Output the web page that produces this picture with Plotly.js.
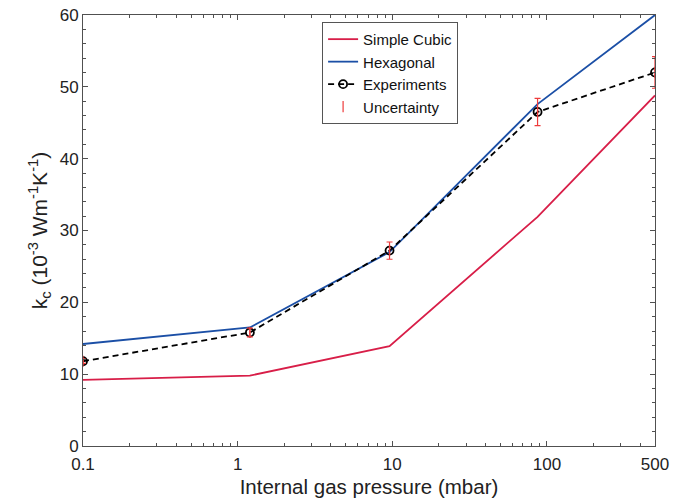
<!DOCTYPE html>
<html>
<head>
<meta charset="utf-8">
<script src="https://cdn.plot.ly/plotly-3.0.1.min.js"></script>
<style>html,body{margin:0;padding:0;background:#fff;}#chart{width:686px;height:501px;}</style>
</head>
<body>
<div id="chart"></div>
<script>
// Data
const pressure = [0.1, 1.2, 9.6, 87, 500];          // mbar
const simpleCubic = [9.2, 9.8, 13.9, 31.9, 48.8];
const hexagonal = [14.2, 16.5, 27.0, 47.6, 60.0];
const experiments = [11.8, 15.8, 27.2, 46.5, 52.0];
const uncertainty = [0.3, 0.6, 1.2, 1.9, 2.2];
const xTickVals = [0.1, 1, 10, 100, 500];
const xTickText = ['0.1', '1', '10', '100', '500'];
const xMinorVals = [0.2,0.3,0.4,0.5,0.6,0.7,0.8,0.9,2,3,4,5,6,7,8,9,20,30,40,50,60,70,80,90,200,300,400];

const red = '#d81e48';
const blue = '#1b4fa6';
const errRed = '#ee3b3b';
const axisCol = '#505050';

const traces = [
  {x: pressure, y: simpleCubic, name: 'Simple Cubic', mode: 'lines',
   line: {color: red, width: 1.8}},
  {x: pressure, y: hexagonal, name: 'Hexagonal', mode: 'lines',
   line: {color: blue, width: 1.8}},
  {x: pressure, y: experiments, name: 'Experiments', mode: 'lines+markers',
   line: {color: '#000', width: 1.8, dash: '6px,4px'},
   marker: {symbol: 'circle-open', size: 8, color: '#000', line: {width: 1.8, color: '#000'}}},
  {x: pressure, y: experiments, name: 'Uncertainty', mode: 'markers',
   marker: {symbol: 'line-ns-open', size: 8, color: errRed, line: {width: 1.2, color: errRed}},
   error_y: {type: 'data', array: uncertainty, visible: true, color: errRed, thickness: 1.2, width: 3}}
];

const layout = {
  width: 686, height: 501,
  margin: {l: 83, r: 31, t: 15, b: 55},
  paper_bgcolor: '#fff', plot_bgcolor: '#fff',
  font: {family: 'Liberation Sans, Arial, sans-serif', color: '#222', size: 17},
  showlegend: true,
  legend: {x: 0.418, y: 0.984, xanchor: 'left', yanchor: 'top',
    bgcolor: '#fff', bordercolor: '#555', borderwidth: 1,
    font: {size: 15, color: '#111'}, tracegroupgap: 0, itemwidth: 30},
  xaxis: {
    type: 'log', range: [Math.log10(0.1), Math.log10(500)],
    tickvals: xTickVals, ticktext: xTickText,
    ticks: 'inside', ticklen: 5, tickcolor: axisCol, tickwidth: 1,
    ticklabelstandoff: 3,
    minor: {tickvals: xMinorVals, ticks: 'inside', ticklen: 3, tickcolor: axisCol},
    showline: true, linecolor: axisCol, linewidth: 1, mirror: 'allticks',
    showgrid: false, zeroline: false,
    tickfont: {size: 17, color: '#222'},
    title: {text: 'Internal gas pressure (mbar)', font: {size: 20.5, color: '#222'}, standoff: 6}
  },
  yaxis: {
    range: [0, 60], dtick: 10, tick0: 0,
    ticks: 'inside', ticklen: 5, tickcolor: axisCol, tickwidth: 1,
    minor: {dtick: 2, ticks: 'inside', ticklen: 3, tickcolor: axisCol},
    showline: true, linecolor: axisCol, linewidth: 1, mirror: 'allticks',
    showgrid: false, zeroline: false,
    tickfont: {size: 17, color: '#222'},
    title: {text: 'k<sub>c</sub> (10<sup>-3</sup> Wm<sup>-1</sup>K<sup>-1</sup>)', font: {size: 21, color: '#222'}, standoff: 6}
  }
};

Plotly.newPlot('chart', traces, layout, {displayModeBar: false, staticPlot: true});
</script>
</body>
</html>
